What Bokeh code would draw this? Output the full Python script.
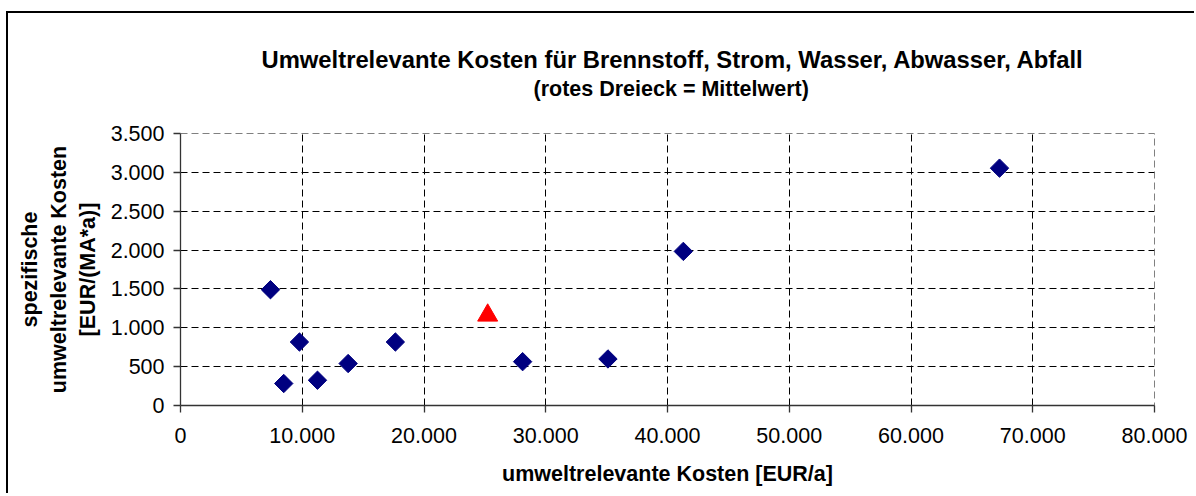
from math import pi
from bokeh.plotting import figure
from bokeh.models import Range1d, FixedTicker, Title, LinearAxis
from bokeh.embed import file_html
from bokeh.resources import INLINE

# ---- data ----
kosten = [7390, 9770, 8480, 11250, 13770, 17650, 28100, 35110, 41300, 67270]   # EUR/a
spez = [1490, 817, 283, 325, 540, 817, 564, 599, 1983, 3054]                    # EUR/(MA*a)
mittel_x = [25230]
mittel_y = [1160]

x_ticks = [0, 10000, 20000, 30000, 40000, 50000, 60000, 70000, 80000]
x_tick_labels = ["0", "10.000", "20.000", "30.000", "40.000", "50.000", "60.000", "70.000", "80.000"]
y_ticks = [0, 500, 1000, 1500, 2000, 2500, 3000, 3500]
y_tick_labels = ["0", "500", "1.000", "1.500", "2.000", "2.500", "3.000", "3.500"]

title_text = "Umweltrelevante Kosten für Brennstoff, Strom, Wasser, Abwasser, Abfall"
subtitle_text = "(rotes Dreieck = Mittelwert)"
x_label_text = "umweltrelevante Kosten [EUR/a]"
y_label_lines = ["spezifische", "umweltrelevante Kosten", "[EUR/(MA*a)]"]

FONT = "Liberation Sans"

p = figure(width=1188, height=482, output_backend="svg", toolbar_location=None,
           x_range=Range1d(x_ticks[0], x_ticks[-1]), y_range=Range1d(y_ticks[0], y_ticks[-1]),
           min_border_left=172, min_border_right=42, min_border_top=120, min_border_bottom=90)
p.styles = {"border-left": "2px solid #000", "border-top": "2px solid #000",
            "margin-left": "6px", "margin-top": "11px"}
p.background_fill_color = "white"
p.border_fill_color = "white"
p.outline_line_color = "#808080"
p.outline_line_dash = "7 4"
p.outline_line_width = 1

for ax, ticks, labels in ((p.xaxis[0], x_ticks, x_tick_labels), (p.yaxis[0], y_ticks, y_tick_labels)):
    ax.ticker = FixedTicker(ticks=ticks)
    ax.major_label_overrides = dict(zip(ticks, labels))
    ax.minor_tick_line_color = None
    ax.major_tick_out = 7
    ax.major_tick_in = 0
    ax.axis_line_color = "#333333"
    ax.major_tick_line_color = "#333333"
    ax.axis_line_width = 1.3
    ax.major_tick_line_width = 1.3
    ax.major_label_text_font = FONT
    ax.major_label_text_font_size = "21.5px"
    ax.major_label_text_color = "black"
    ax.axis_label_text_font = FONT
    ax.axis_label_text_font_size = "21.5px"
    ax.axis_label_text_font_style = "bold"
    ax.axis_label_text_color = "black"
p.xaxis[0].major_label_standoff = 15
p.yaxis[0].major_label_standoff = 9
p.xaxis[0].axis_label = x_label_text
p.xaxis[0].axis_label_standoff = 16
p.yaxis[0].axis_label = "\n".join(y_label_lines)
p.yaxis[0].axis_label_standoff = 8
p.yaxis[0].axis_label_text_align = "center"

p.xgrid.ticker = FixedTicker(ticks=x_ticks[1:-1])
p.ygrid.ticker = FixedTicker(ticks=y_ticks[1:-1])
for g in (p.xgrid[0], p.ygrid[0]):
    g.grid_line_color = "black"
    g.grid_line_dash = "7 4"
    g.grid_line_width = 1

p.scatter(kosten, spez, marker="square", size=13, angle=pi / 4,
          fill_color="#000080", line_color="#000080")
p.scatter(mittel_x, mittel_y, marker="triangle", size=20,
          fill_color="#FF0000", line_color="#FF0000")

# invisible spacer between the plot frame and the subtitle:
# an axis with one white tick at the left edge and no labels
spacer = LinearAxis(ticker=FixedTicker(ticks=[x_ticks[0]]), major_tick_out=33, major_tick_in=0,
                    axis_line_color=None, major_tick_line_color="white",
                    minor_tick_line_color=None, major_label_standoff=0,
                    major_label_text_color=None, major_label_text_font_size="0px")
p.add_layout(spacer, "above")
p.add_layout(Title(text=subtitle_text, text_font=FONT, text_font_size="21.5px",
                   text_font_style="bold", align="left", offset=353, standoff=0,
                   text_color="black"), "above")
p.add_layout(Title(text=title_text, text_font=FONT, text_font_size="23.8px",
                   text_font_style="bold", align="left", offset=81, standoff=3,
                   text_color="black"), "above")

open("out.html", "w").write(file_html(p, INLINE))
